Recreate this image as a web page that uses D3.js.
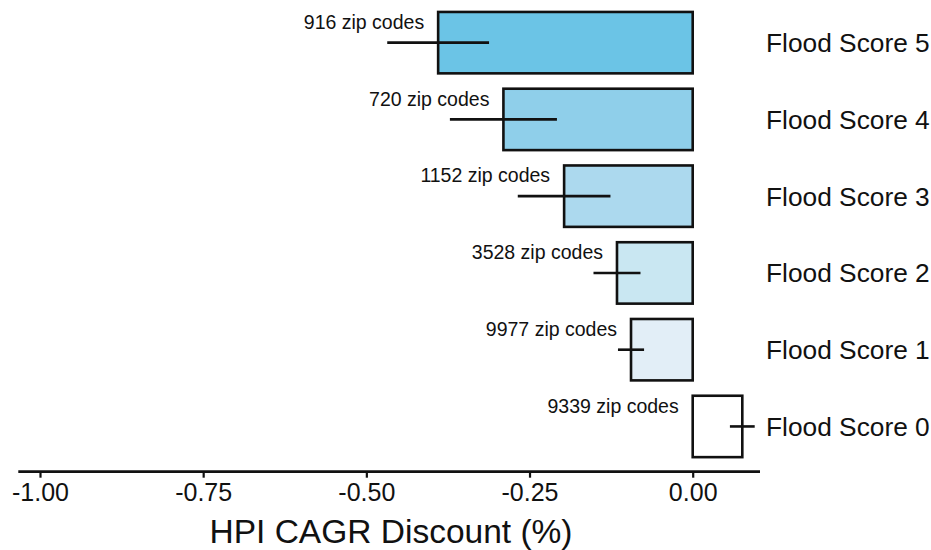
<!DOCTYPE html>
<html>
<head>
<meta charset="utf-8">
<script src="https://cdn.jsdelivr.net/npm/d3@7"></script>
<style>
  html, body { margin: 0; padding: 0; background: #fff; }
  svg { display: block; font-family: "Liberation Sans", Arial, Helvetica, sans-serif; }
</style>
</head>
<body>
<svg id="chart" width="931" height="550"></svg>
<script>
// ---- data ----
const categories = ["Flood Score 5", "Flood Score 4", "Flood Score 3", "Flood Score 2", "Flood Score 1", "Flood Score 0"];
const values     = [-0.390, -0.290, -0.197, -0.116, -0.0945, 0.076];
const errors     = [0.078, 0.082, 0.071, 0.036, 0.020, 0.019];
const zipCounts  = ["916 zip codes", "720 zip codes", "1152 zip codes", "3528 zip codes", "9977 zip codes", "9339 zip codes"];
const fills      = ["#6bc4e6", "#8fcfea", "#acd9ee", "#c9e7f2", "#e2eef7", "#ffffff"];
const tickValues = [-1.00, -0.75, -0.50, -0.25, 0.00];
const xTitle = "HPI CAGR Discount (%)";

// ---- layout ----
const svg = d3.select("#chart");
const x = d3.scaleLinear().domain([-1, 0]).range([40, 692.7]);
const y = d3.scaleBand().domain(categories).range([-3.4, 472.5]).paddingInner(0.2).paddingOuter(0.2);
const axisY = 471.7;

const rows = categories.map((c, i) => ({ c, v: values[i], e: errors[i], z: zipCounts[i], f: fills[i] }));

// bars
svg.append("g").selectAll("rect").data(rows).join("rect")
  .attr("x", d => x(Math.min(0, d.v)))
  .attr("y", d => y(d.c))
  .attr("width", d => Math.abs(x(d.v) - x(0)))
  .attr("height", y.bandwidth())
  .attr("fill", d => d.f)
  .attr("stroke", "#111")
  .attr("stroke-width", 2.6);

// error bars
svg.append("g").selectAll("line").data(rows).join("line")
  .attr("x1", d => x(d.v - d.e))
  .attr("x2", d => x(d.v + d.e))
  .attr("y1", d => y(d.c) + y.bandwidth() / 2)
  .attr("y2", d => y(d.c) + y.bandwidth() / 2)
  .attr("stroke", "#111")
  .attr("stroke-width", 2.6);

// zip code labels
svg.append("g").selectAll("text").data(rows).join("text")
  .attr("x", d => x(Math.min(0, d.v)) - 14)
  .attr("y", d => y(d.c) + 17)
  .attr("text-anchor", "end")
  .attr("font-size", 19.5)
  .attr("fill", "#111")
  .text(d => d.z);

// category labels
svg.append("g").selectAll("text").data(rows).join("text")
  .attr("x", 766)
  .attr("y", d => y(d.c) + y.bandwidth() / 2 + 9.5)
  .attr("font-size", 26.3)
  .attr("fill", "#111")
  .text(d => d.c);

// x axis
const xAxis = d3.axisBottom(x)
  .tickValues(tickValues)
  .tickFormat(d3.format(".2f"))
  .tickSize(6)
  .tickSizeOuter(0);
const ax = svg.append("g").attr("transform", `translate(0,${axisY})`).call(xAxis);
ax.select(".domain").attr("d", "M18.3,0H760").attr("stroke", "#111").attr("stroke-width", 2.8);
ax.selectAll(".tick line").attr("stroke", "#111").attr("stroke-width", 2.2);
ax.selectAll(".tick text")
  .attr("font-size", 25)
  .attr("font-family", "Liberation Sans, Arial, sans-serif")
  .attr("fill", "#111")
  .attr("y", 12)
  .attr("dy", "0.71em")
  .text(d => d3.format(".2f")(d).replace("−", "-"));

// axis title
svg.append("text")
  .attr("x", 391)
  .attr("y", 543)
  .attr("text-anchor", "middle")
  .attr("font-size", 33.5)
  .attr("fill", "#111")
  .text(xTitle);
</script>
</body>
</html>
